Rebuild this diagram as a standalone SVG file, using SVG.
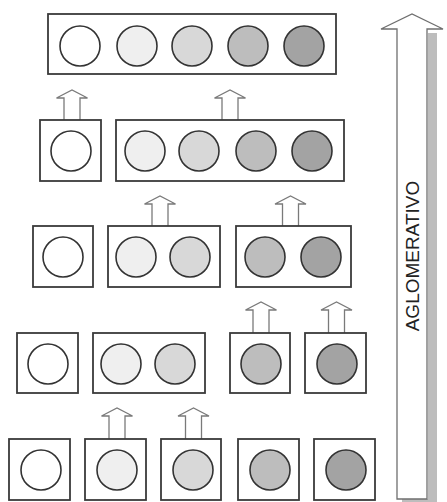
<svg xmlns="http://www.w3.org/2000/svg" width="447" height="502" viewBox="0 0 447 502">
<style>
.box{fill:#fff;stroke:#3a3a3a;stroke-width:1.8}
.c{stroke:#333;stroke-width:1.6}
.c1{fill:#fff}.c2{fill:#efefef}.c3{fill:#d8d8d8}.c4{fill:#bdbdbd}.c5{fill:#a3a3a3}
.arr{fill:#fff;stroke:#7a7a7a;stroke-width:1.3;stroke-linejoin:miter}
.big{fill:#fff;stroke:#6f6f6f;stroke-width:1.3}
.lbl{font-family:"Liberation Sans",Arial,sans-serif;font-size:19px;fill:#222}
</style>
<rect width="447" height="502" fill="#fff"/>
<g id="connectors">
<polyline class="arr" points="64,120 64,98 56.5,98 72,90 87.5,98 80,98 80,120"/>
<polyline class="arr" points="222,120 222,98 214.5,98 230,90 245.5,98 238,98 238,120"/>
<polyline class="arr" points="152,226 152,204 144.5,204 160,196 175.5,204 168,204 168,226"/>
<polyline class="arr" points="282.5,226 282.5,204 275,204 290.5,196 306,204 298.5,204 298.5,226"/>
<polyline class="arr" points="253,333 253,310 245.5,310 261,302 276.5,310 269,310 269,333"/>
<polyline class="arr" points="328.5,333 328.5,310 321,310 336.5,302 352,310 344.5,310 344.5,333"/>
<polyline class="arr" points="109,439 109,416 101.5,416 117,408 132.5,416 125,416 125,439"/>
<polyline class="arr" points="185.5,439 185.5,416 178,416 193.5,408 209,416 201.5,416 201.5,439"/>
</g>
<g id="row1">
<rect class="box" x="48" y="14" width="288" height="60"/>
<circle class="c c1" cx="80" cy="46" r="20"/>
<circle class="c c2" cx="137" cy="46" r="20"/>
<circle class="c c3" cx="192" cy="46" r="20"/>
<circle class="c c4" cx="248" cy="46" r="20"/>
<circle class="c c5" cx="304" cy="46" r="20"/>
</g>
<g id="row2">
<rect class="box" x="40" y="120" width="61" height="61"/>
<circle class="c c1" cx="71" cy="151" r="20"/>
<rect class="box" x="116" y="120" width="228" height="61"/>
<circle class="c c2" cx="145" cy="151" r="20"/>
<circle class="c c3" cx="199" cy="151" r="20"/>
<circle class="c c4" cx="256" cy="151" r="20"/>
<circle class="c c5" cx="312" cy="151" r="20"/>
</g>
<g id="row3">
<rect class="box" x="33" y="226" width="60" height="61"/>
<circle class="c c1" cx="63" cy="257" r="20"/>
<rect class="box" x="108" y="226" width="112" height="61"/>
<circle class="c c2" cx="136" cy="257" r="20"/>
<circle class="c c3" cx="190" cy="257" r="20"/>
<rect class="box" x="236" y="226" width="115" height="61"/>
<circle class="c c4" cx="265" cy="257" r="20"/>
<circle class="c c5" cx="321" cy="257" r="20"/>
</g>
<g id="row4">
<rect class="box" x="17" y="333" width="61" height="60"/>
<circle class="c c1" cx="48" cy="364" r="20"/>
<rect class="box" x="93" y="333" width="112" height="60"/>
<circle class="c c2" cx="121" cy="364" r="20"/>
<circle class="c c3" cx="175" cy="364" r="20"/>
<rect class="box" x="230" y="333" width="60" height="60"/>
<circle class="c c4" cx="261" cy="364" r="20"/>
<rect class="box" x="305" y="333" width="61" height="60"/>
<circle class="c c5" cx="337" cy="364" r="20"/>
</g>
<g id="row5">
<rect class="box" x="9" y="439" width="61" height="61"/>
<circle class="c c1" cx="41" cy="470" r="20"/>
<rect class="box" x="85" y="439" width="61" height="61"/>
<circle class="c c2" cx="117" cy="470" r="20"/>
<rect class="box" x="161" y="439" width="60" height="61"/>
<circle class="c c3" cx="193" cy="470" r="20"/>
<rect class="box" x="238" y="439" width="61" height="61"/>
<circle class="c c4" cx="270" cy="470" r="20"/>
<rect class="box" x="314" y="439" width="61" height="61"/>
<circle class="c c5" cx="346" cy="470" r="20"/>
</g>
<g id="aglomerativo">
<polygon points="428,33 437,33 437,502 402,502 402,499 428,499" fill="#bdbdbd"/>
<polygon class="big" points="397,499 397,29 381,29 412,14 443,29 427,29 427,499"/>
<text class="lbl" transform="translate(418.5,256) rotate(-90)" text-anchor="middle">AGLOMERATIVO</text>
</g>
</svg>
